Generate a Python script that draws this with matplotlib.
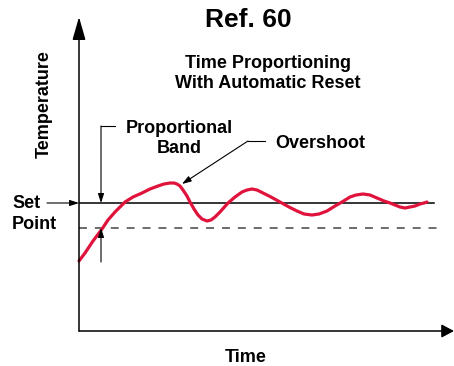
import numpy as np
import matplotlib
matplotlib.use("Agg")
import matplotlib.pyplot as plt

# response curve (time, temperature in arbitrary units)
time = [0, 6, 14, 23, 29, 36, 46, 54, 63, 71,
        79, 85, 91, 95, 98, 101, 104, 108, 111, 115,
        119, 123, 128, 132, 136, 141, 149, 156, 163, 168,
        173, 178, 184, 192, 201, 210, 218, 225, 233, 240,
        248, 256, 263, 271, 277, 284, 291, 298, 305, 311,
        316, 321, 326, 331, 336, 341, 345, 348]
temp = [70, 78, 90, 102, 111, 119, 129, 134, 138, 142,
        145, 147, 148, 148, 147, 145, 141, 135, 129, 122,
        116, 112, 110, 111, 114, 119, 128, 134, 139, 141,
        142, 141, 138, 134, 129, 124, 120, 117, 116, 117,
        120, 125, 129, 134, 136, 137, 136, 133, 130, 128,
        126, 124, 123, 124, 125, 127, 128, 129]

set_point = 128
band_low = 103
set_line_end = 355
band_line_end = 360
overshoot_peak = (103, 147)

plt.rcParams['font.family'] = ['Liberation Sans', 'DejaVu Sans']
plt.rcParams['font.weight'] = 'bold'

fig = plt.figure(figsize=(4.54, 3.66), dpi=100)
ax = fig.add_axes([79/454, 35/366, 375/454, 314/366])
ax.set_xlim(0, 375)
ax.set_ylim(0, 314)
ax.axis('off')

# axes arrows
big = dict(arrowstyle='-|>,head_length=14,head_width=4', mutation_scale=1,
           color='black', lw=1.1, shrinkA=0, shrinkB=0)
ax.annotate('', xy=(0, 314), xytext=(0, 0), arrowprops=big, annotation_clip=False)
big_x = dict(big, arrowstyle='-|>,head_length=7.5,head_width=4')
ax.annotate('', xy=(375, 0), xytext=(0, 0), arrowprops=big_x, annotation_clip=False)

# set point and band lines
ax.plot([0, set_line_end], [set_point, set_point], color='black', lw=1.1)
ax.plot([0, band_line_end], [band_low, band_low], color='#444444', lw=1.1,
        linestyle=(0, (5.2, 5.2)))

# curve
ax.plot(time, temp, color='#e0133c', lw=2.3, solid_capstyle='round',
        solid_joinstyle='round', clip_on=False)

small = dict(arrowstyle='-|>,head_length=5.5,head_width=1.8', mutation_scale=1,
             color='black', lw=0.8, shrinkA=0, shrinkB=0)

# set point arrow
ax.annotate('', xy=(0, set_point), xytext=(-32, set_point), arrowprops=small,
            annotation_clip=False)

# proportional band bracket
ax.plot([22, 36], [205, 205], color='black', lw=0.8)
ax.annotate('', xy=(22, set_point), xytext=(22, 205), arrowprops=small)
ax.annotate('', xy=(22, band_low), xytext=(22, 69), arrowprops=small)

# overshoot leader
ax.plot([169, 186], [190, 190], color='black', lw=0.8)
ax.annotate('', xy=overshoot_peak, xytext=(169, 190), arrowprops=small)

# texts
kw = dict(fontsize=13, fontweight='bold', clip_on=False)
ax.text(169, 304, 'Ref. 60', ha='center', va='baseline', fontsize=19,
        fontweight='bold')
ax.text(189, 263, 'Time Proportioning', ha='center', va='baseline', **kw)
ax.text(189, 243, 'With Automatic Reset', ha='center', va='baseline', **kw)
ax.text(100, 198, 'Proportional', ha='center', va='baseline', **kw)
ax.text(100, 178, 'Band', ha='center', va='baseline', **kw)
ax.text(241, 183, 'Overshoot', ha='center', va='baseline', **kw)
ax.text(-35, 227, 'Temperature', ha='center', va='center', rotation=90, **kw)
ax.text(-67, 123, 'Set', ha='left', va='baseline', **kw)
ax.text(-67, 102, 'Point', ha='left', va='baseline', **kw)
ax.text(167, -31, 'Time', ha='center', va='baseline', **kw)

fig.savefig('out.png', dpi=100)
